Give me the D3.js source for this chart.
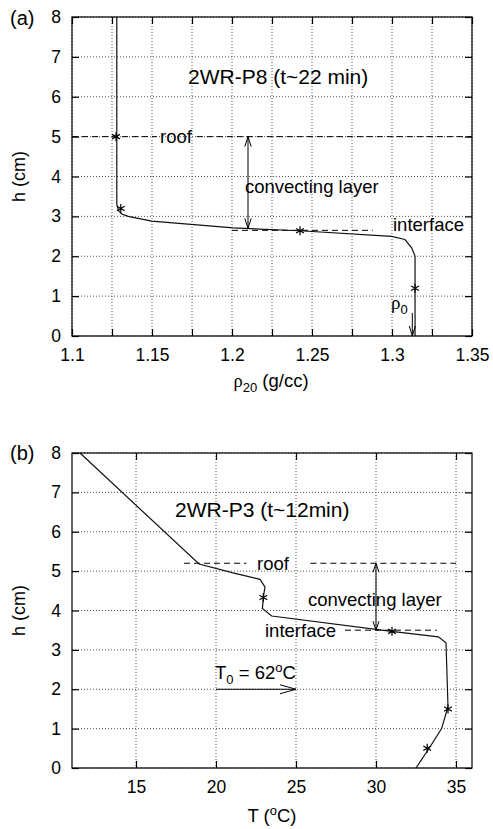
<!DOCTYPE html>
<html>
<head>
<meta charset="utf-8">
<script src="https://cdn.jsdelivr.net/npm/d3@7"></script>
<style>
  body { margin: 0; background: #fff; }
  svg { display: block; }
  text { font-family: "Liberation Sans", Arial, Helvetica, sans-serif; fill: #000; }
</style>
</head>
<body>
<svg id="fig" width="493" height="829"></svg>
<script>
// ---- panel (a): density profile, 2WR-P8
var rhoProfile = [
  {x: 1.128, y: 8}, {x: 1.128, y: 3.3}, {x: 1.129, y: 3.15}, {x: 1.131, y: 3.06},
  {x: 1.1352, y: 3.0}, {x: 1.1498, y: 2.88}, {x: 1.2008, y: 2.71}, {x: 1.2425, y: 2.64},
  {x: 1.2998, y: 2.5}, {x: 1.3081, y: 2.42}, {x: 1.3123, y: 2.21}, {x: 1.3144, y: 2.0},
  {x: 1.3144, y: 0}
];
var rhoStars = [
  {x: 1.1275, y: 5.0}, {x: 1.1305, y: 3.2}, {x: 1.2425, y: 2.64}, {x: 1.3144, y: 1.2}
];
var rhoMajor = [1.1, 1.15, 1.2, 1.25, 1.3, 1.35];
var rhoMinor = [1.125, 1.175, 1.225, 1.275, 1.325];
var hTicks = [0, 1, 2, 3, 4, 5, 6, 7, 8];

// ---- panel (b): temperature profile, 2WR-P3
var tempProfile = [
  {x: 11.5, y: 8}, {x: 18.94, y: 5.18}, {x: 21.0, y: 4.96}, {x: 22.75, y: 4.79},
  {x: 23.06, y: 4.6}, {x: 22.96, y: 4.33}, {x: 22.9, y: 4.05}, {x: 23.48, y: 3.86},
  {x: 30.98, y: 3.47}, {x: 33.9, y: 3.33}, {x: 34.375, y: 3.18}, {x: 34.5, y: 1.56},
  {x: 34.1, y: 1.0}, {x: 33.27, y: 0.47}, {x: 32.5, y: 0}
];
var tempStars = [
  {x: 22.96, y: 4.33}, {x: 31.0, y: 3.47}, {x: 34.5, y: 1.5}, {x: 33.2, y: 0.5}
];
var tempMajor = [15, 20, 25, 30, 35];

var svg = d3.select('#fig');

function panel(xDomain, yTop, yBottom, major, minor) {
  var x = d3.scaleLinear().domain(xDomain).range([72, 472]);
  var y = d3.scaleLinear().domain([0, 8]).range([yBottom, yTop]);
  var g = svg.append('g');

  // dotted grid
  var grid = g.append('g').attr('stroke', '#555').attr('stroke-width', 1).attr('stroke-dasharray', '1,2');
  major.concat(minor).forEach(function(v) {
    grid.append('line').attr('x1', x(v)).attr('x2', x(v)).attr('y1', yTop).attr('y2', yBottom);
  });
  hTicks.forEach(function(v) {
    grid.append('line').attr('x1', 72).attr('x2', 472).attr('y1', y(v)).attr('y2', y(v));
  });

  function style(sel) {
    sel.select('.domain').remove();
    sel.selectAll('line').attr('stroke', '#000').attr('stroke-width', 1.2);
    sel.selectAll('text').attr('font-size', 17.5).attr('font-family', '"Liberation Sans", Arial, sans-serif');
  }
  g.append('g').attr('transform', 'translate(0,' + yBottom + ')')
    .call(d3.axisBottom(x).tickValues(major).tickSize(-7).tickPadding(13).tickFormat(function(d) { return String(d); }))
    .call(style);
  g.append('g').attr('transform', 'translate(0,' + yTop + ')')
    .call(d3.axisTop(x).tickValues(major).tickSize(-7).tickFormat(''))
    .call(style);
  if (minor.length) {
    g.append('g').attr('transform', 'translate(0,' + yBottom + ')')
      .call(d3.axisBottom(x).tickValues(minor).tickSize(-7).tickFormat('')).call(style);
    g.append('g').attr('transform', 'translate(0,' + yTop + ')')
      .call(d3.axisTop(x).tickValues(minor).tickSize(-7).tickFormat('')).call(style);
  }
  g.append('g').attr('transform', 'translate(72,0)')
    .call(d3.axisLeft(y).tickValues(hTicks).tickSize(-7).tickPadding(11).tickFormat(d3.format('d')))
    .call(style);
  g.append('g').attr('transform', 'translate(472,0)')
    .call(d3.axisRight(y).tickValues(hTicks).tickSize(-7).tickFormat(''))
    .call(style);

  g.append('rect').attr('x', 72).attr('y', yTop).attr('width', 400).attr('height', yBottom - yTop)
    .attr('fill', 'none').attr('stroke', '#000').attr('stroke-width', 1.2);

  g.append('text').attr('transform', 'translate(25,' + y(4) + ') rotate(-90)')
    .attr('text-anchor', 'middle').attr('font-size', 18).text('h (cm)');

  return {g: g, x: x, y: y};
}

function profile(p, data) {
  var line = d3.line().x(function(d) { return p.x(d.x); }).y(function(d) { return p.y(d.y); });
  p.g.append('path').datum(data).attr('d', line)
    .attr('fill', 'none').attr('stroke', '#111').attr('stroke-width', 1.2);
}

function stars(p, data) {
  var r = 4.5, c = Math.cos(Math.PI / 6) * r, s = Math.sin(Math.PI / 6) * r;
  p.g.selectAll(null).data(data).enter().append('path')
    .attr('transform', function(d) { return 'translate(' + p.x(d.x) + ',' + p.y(d.y) + ')'; })
    .attr('d', 'M0,' + (-r) + 'V' + r + 'M' + (-c) + ',' + (-s) + 'L' + c + ',' + s + 'M' + (-c) + ',' + s + 'L' + c + ',' + (-s))
    .attr('stroke', '#000').attr('stroke-width', 1.2).attr('fill', 'none');
}

function dashed(p, x1, x2, h) {
  p.g.append('line').attr('x1', p.x(x1)).attr('x2', p.x(x2)).attr('y1', p.y(h)).attr('y2', p.y(h))
    .attr('stroke', '#000').attr('stroke-width', 1).attr('stroke-dasharray', '6,4');
}

function head(g, x1, y1, x2, y2, len, w) {
  var a = Math.atan2(y2 - y1, x2 - x1);
  var bx = x2 - len * Math.cos(a), by = y2 - len * Math.sin(a);
  var nx = -Math.sin(a) * w, ny = Math.cos(a) * w;
  g.append('path').attr('d', 'M' + (bx + nx) + ',' + (by + ny) + 'L' + x2 + ',' + y2 + 'L' + (bx - nx) + ',' + (by - ny))
    .attr('fill', 'none').attr('stroke', '#000').attr('stroke-width', 1);
}

function arrow(p, x1, h1, x2, h2, both, len, w) {
  var X1 = p.x(x1), Y1 = p.y(h1), X2 = p.x(x2), Y2 = p.y(h2);
  p.g.append('line').attr('x1', X1).attr('y1', Y1).attr('x2', X2).attr('y2', Y2)
    .attr('stroke', '#000').attr('stroke-width', 1);
  head(p.g, X1, Y1, X2, Y2, len, w);
  if (both) head(p.g, X2, Y2, X1, Y1, len, w);
}

function label(g, x, y, txt, size) {
  return g.append('text').attr('x', x).attr('y', y).attr('font-size', size || 18.5).text(txt);
}

// ---------- panel (a)
var a = panel([1.1, 1.35], 17, 336, rhoMajor, rhoMinor);
dashed(a, 1.1, 1.153, 5);
dashed(a, 1.178, 1.35, 5);
dashed(a, 1.2, 1.288, 2.65);
profile(a, rhoProfile);
stars(a, rhoStars);
arrow(a, 1.21, 5, 1.21, 2.7, true, 10, 3.2);
arrow(a, 1.3127, 0.58, 1.3127, 0, false, 10, 3);
label(a.g, 188, 84, '2WR-P8 (t~22 min)', 21);
label(a.g, 160, 143, 'roof');
label(a.g, 245, 193, 'convecting layer');
label(a.g, 393, 231, 'interface');
var r0 = a.g.append('text').attr('x', 391).attr('y', 309).attr('font-size', 19);
r0.append('tspan').attr('font-family', '"Liberation Serif", "Times New Roman", serif').text('ρ');
r0.append('tspan').attr('font-size', 13).attr('dy', 5).text('0');
var xa = a.g.append('text').attr('x', 271).attr('y', 387).attr('text-anchor', 'middle').attr('font-size', 18.5);
xa.append('tspan').attr('font-family', '"Liberation Serif", "Times New Roman", serif').text('ρ');
xa.append('tspan').attr('font-size', 13).attr('dy', 5).text('20');
xa.append('tspan').attr('dy', -5).text(' (g/cc)');
label(svg, 10, 25, '(a)', 20);

// ---------- panel (b)
var b = panel([11, 36], 453, 768, tempMajor, []);
dashed(b, 18, 21.9, 5.2);
dashed(b, 25.9, 35, 5.2);
dashed(b, 28.06, 33.8, 3.5);
profile(b, tempProfile);
stars(b, tempStars);
arrow(b, 30, 5.2, 30, 3.5, true, 9, 3);
arrow(b, 20, 2, 25, 2, false, 16, 4.5);
label(b.g, 175, 517, '2WR-P3 (t~12min)', 21);
label(b.g, 257, 570, 'roof');
label(b.g, 308, 606, 'convecting layer');
label(b.g, 265, 637, 'interface');
var t0 = b.g.append('text').attr('x', 215).attr('y', 679).attr('font-size', 18.5);
t0.append('tspan').text('T');
t0.append('tspan').attr('font-size', 13).attr('dy', 5).text('0');
t0.append('tspan').attr('dy', -5).text(' = 62');
t0.append('tspan').attr('font-size', 13).attr('dy', -7).text('o');
t0.append('tspan').attr('dy', 7).text('C');
var xb = b.g.append('text').attr('x', 272).attr('y', 822).attr('text-anchor', 'middle').attr('font-size', 18.5);
xb.append('tspan').text('T (');
xb.append('tspan').attr('font-size', 13).attr('dy', -7).text('o');
xb.append('tspan').attr('dy', 7).text('C)');
label(svg, 10, 460, '(b)', 20);
</script>
</body>
</html>
